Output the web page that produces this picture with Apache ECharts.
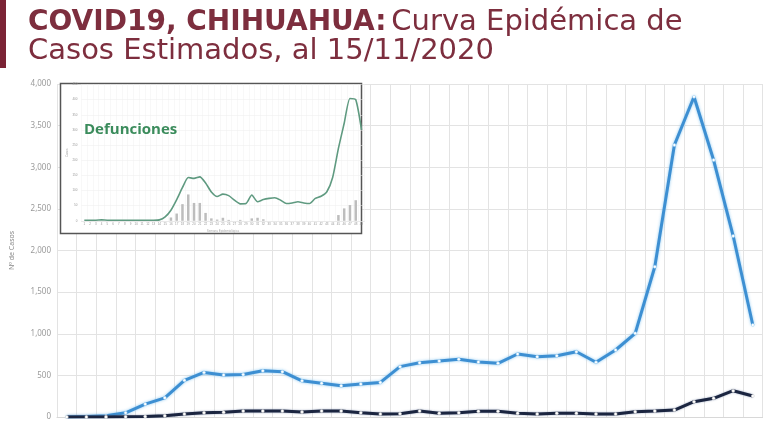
<!DOCTYPE html>
<html>
<head>
<meta charset="utf-8">
<script src="https://cdn.jsdelivr.net/npm/echarts@6/dist/echarts.min.js"></script>
<style>html,body{margin:0;padding:0;background:#fff}#c{width:770px;height:423px}</style>
</head>
<body>
<div id="c"></div>
<script>
// ---- Main chart data (estimated cases per epidemiological week) ----
const weeks = ['1','2','3','4','5','6','7','8','9','10','11','12','13','14','15','16','17','18',
  '19','20','21','22','23','24','25','26','27','28','29','30','31','32','33','34','35','36'];
const estimatedCases = [0, 5, 15, 50, 155, 230, 440, 535, 505, 510, 555, 545, 435, 405, 375, 395, 415, 605,
  652, 672, 693, 660, 645, 757, 724, 736, 784, 657, 805, 1005, 1805, 3267, 3847, 3087, 2174, 1105];
const secondSeries = [0, 0, 0, 3, 5, 15, 35, 52, 56, 72, 72, 72, 60, 72, 72, 52, 36, 40,
  72, 44, 52, 68, 68, 44, 36, 44, 44, 36, 36, 64, 72, 84, 184, 224, 316, 252];
const yTicks = [0, 500, 1000, 1500, 2000, 2500, 3000, 3500, 4000];

// ---- Inset chart data (Defunciones) ----
const insetWeeks = ['1','2','3','4','5','6','7','8','9','10','11','12','13','14','15','16','17','18','19','20',
  '21','22','23','24','25','26','27','28','29','30','31','32','33','34','35','36','37','38','39','40',
  '41','42','43','44','45','46','47','48','49'];
const deathsLine = [2, 2, 2, 3, 2, 2, 2, 2, 2, 2, 2, 2, 2, 3, 13, 35, 70, 110, 143, 140,
  145, 125, 95, 80, 88, 83, 68, 56, 57, 85, 63, 70, 74, 76, 68, 57, 59, 63, 59, 57,
  74, 81, 96, 143, 239, 322, 404, 400, 300];
const deathsBars = [0, 0, 0, 0, 0, 0, 0, 0, 0, 0, 0, 0, 0, 0, 0, 11, 24, 55, 87, 59,
  59, 26, 8, 4, 10, 3, 0, 3, 0, 8, 10, 5, 0, 0, 0, 0, 0, 0, 0, 0,
  0, 0, 0, 0, 19, 41, 52, 68, 0];

const fmt = v => String(v).replace(/\B(?=(\d{3})+(?!\d))/g, ',');

const chart = echarts.init(document.getElementById('c'), null, {renderer: 'canvas'});
chart.setOption({
  backgroundColor: '#ffffff',
  animation: false,
  title: [{
    left: 23, top: 3,
    text: '{b|COVID19, CHIHUAHUA:} {r|Curva Epidémica de}\n{r|Casos Estimados, al 15/11/2020}',
    textStyle: {
      rich: {
        b: {fontFamily: 'DejaVu Sans', fontWeight: 'bold', fontSize: 28, color: '#7d2e3e', lineHeight: 29},
        r: {fontFamily: 'DejaVu Sans', fontWeight: 'normal', fontSize: 29, color: '#7d2e3e', lineHeight: 29}
      }
    }
  }, {
    left: 79, top: 117, z: 20,
    text: 'Defunciones',
    textStyle: {fontFamily: 'Open Sans', fontWeight: 'bold', fontSize: 15, color: '#3b8c5c'}
  }],
  graphic: [
    {type: 'rect', shape: {x: 0, y: 0, width: 6, height: 68}, style: {fill: '#7b2335'}, z: 1},
    {type: 'rect', shape: {x: 60.5, y: 83.5, width: 301, height: 150}, style: {fill: '#ffffff', stroke: '#555555', lineWidth: 1.5}, z: 2}
  ],
  grid: [
    {left: 57, top: 84, width: 705.6, bottom: 6, containLabel: false},
    {left: 81.4, top: 84.5, width: 283, height: 136.3, containLabel: false}
  ],
  xAxis: [{
    gridIndex: 0, type: 'category', data: weeks, boundaryGap: true,
    axisLabel: {show: false}, axisTick: {show: false},
    axisLine: {show: true, lineStyle: {color: '#d8d8d8', width: 1}},
    splitLine: {show: true, lineStyle: {color: '#e3e3e3', width: 1}}
  }, {
    gridIndex: 1, type: 'category', data: insetWeeks, boundaryGap: true, z: 5,
    name: 'Semana Epidemiológica', nameLocation: 'middle', nameGap: 9,
    nameTextStyle: {fontSize: 3, color: '#aaa'},
    axisLabel: {show: true, fontSize: 3, color: '#999', margin: 2, interval: 0},
    axisTick: {show: false},
    axisLine: {show: true, lineStyle: {color: '#ddd', width: 0.5}},
    splitLine: {show: true, lineStyle: {color: '#f0f0f0', width: 0.5}}
  }],
  yAxis: [{
    gridIndex: 0, type: 'value', min: 0, max: 4000, interval: 500,
    name: 'Nº de Casos', nameLocation: 'middle', nameGap: 42,
    nameTextStyle: {fontFamily: 'Noto Sans', fontSize: 7, color: '#888'},
    axisLabel: {fontFamily: 'Noto Sans', fontSize: 8, color: '#9a9a9a', margin: 6, formatter: v => fmt(v)},
    axisLine: {show: false}, axisTick: {show: false},
    splitLine: {show: true, lineStyle: {color: '#e3e3e3', width: 1}}
  }, {
    gridIndex: 1, type: 'value', min: 0, max: 450, interval: 50, z: 5,
    name: 'Casos', nameLocation: 'middle', nameGap: 13,
    nameTextStyle: {fontSize: 3, color: '#aaa'},
    axisLabel: {fontSize: 3, color: '#999', margin: 4},
    axisLine: {show: false}, axisTick: {show: false},
    splitLine: {show: true, lineStyle: {color: '#ececec', width: 0.5}}
  }],
  series: [{
    name: 'Casos estimados', type: 'line', xAxisIndex: 0, yAxisIndex: 0, data: estimatedCases, z: 3,
    symbol: 'circle', symbolSize: 3, showSymbol: true,
    lineStyle: {color: '#3d8fd2', width: 3, shadowColor: 'rgba(130,195,240,0.9)', shadowBlur: 3},
    itemStyle: {color: '#ffffff', borderColor: '#9fd0f2', borderWidth: 0.5}
  }, {
    name: 'Serie 2', type: 'line', xAxisIndex: 0, yAxisIndex: 0, data: secondSeries, z: 4,
    symbol: 'circle', symbolSize: 3, showSymbol: true,
    lineStyle: {color: '#1b2540', width: 3, shadowColor: 'rgba(80,100,140,0.6)', shadowBlur: 2},
    itemStyle: {color: '#ffffff', borderColor: '#cccccc', borderWidth: 0.5}
  }, {
    name: 'Defunciones barras', type: 'bar', xAxisIndex: 1, yAxisIndex: 1, data: deathsBars, z: 6,
    barWidth: 2.5, itemStyle: {color: '#bdbdbd'}
  }, {
    name: 'Defunciones', type: 'line', xAxisIndex: 1, yAxisIndex: 1, data: deathsLine, z: 7,
    symbol: 'none', smooth: 0.2,
    lineStyle: {color: '#5f9a80', width: 1.6}
  }]
});
</script>
</body>
</html>
